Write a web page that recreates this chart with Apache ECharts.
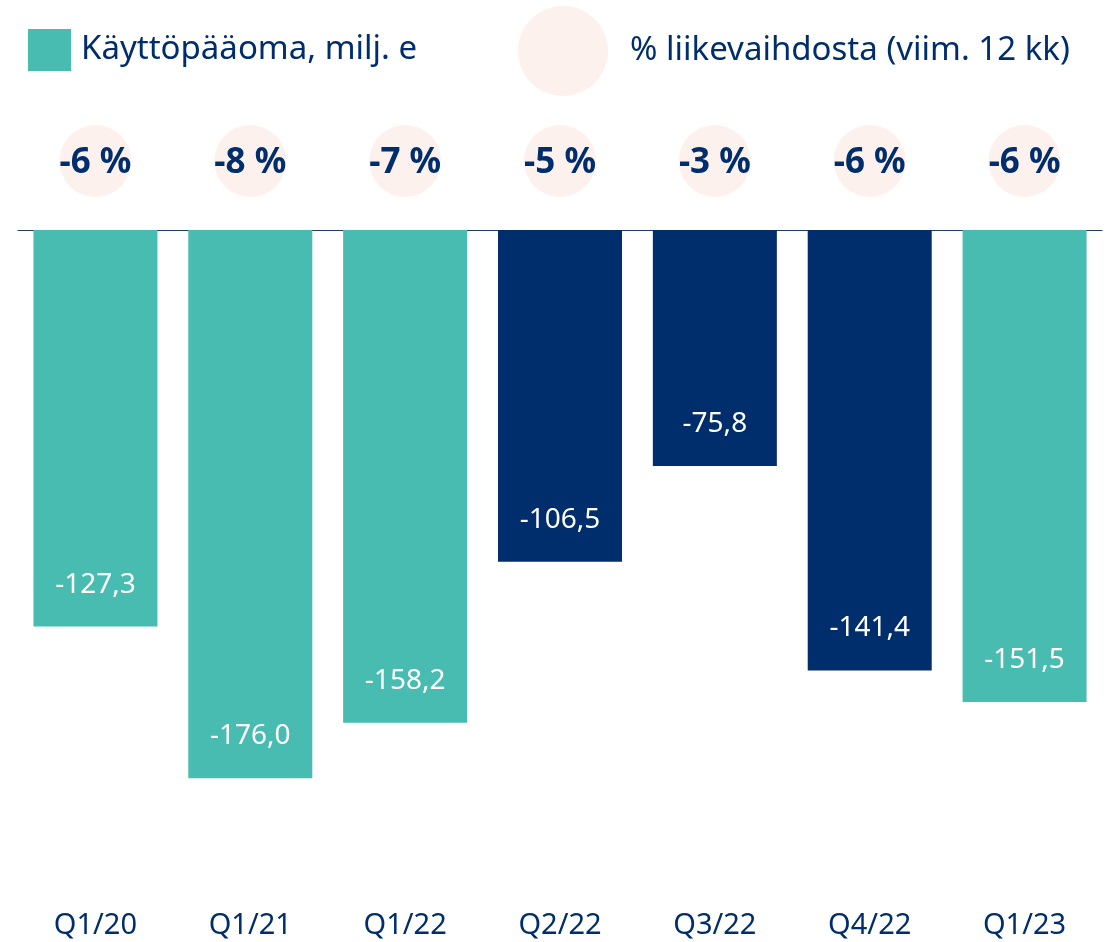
<!DOCTYPE html>
<html>
<head>
<meta charset="utf-8">
<script src="https://cdn.jsdelivr.net/npm/echarts@6/dist/echarts.min.js"></script>
<style>
  html, body { margin: 0; padding: 0; background: #fff; }
  #chart { width: 1110px; height: 942px; }
</style>
</head>
<body>
<div id="chart"></div>
<script>
  // data
  const categories = ['Q1/20', 'Q1/21', 'Q1/22', 'Q2/22', 'Q3/22', 'Q4/22', 'Q1/23'];
  const workingCapital = [-127.3, -176.0, -158.2, -106.5, -75.8, -141.4, -151.5];
  const pctOfSales = [-6, -8, -7, -5, -3, -6, -6];
  const highlighted = ['Q2/22', 'Q3/22', 'Q4/22'];

  const TEAL = '#48BCB0';
  const NAVY = '#002D6C';
  const PINK = '#FDF1EE';
  const FONT = '"Noto Sans", sans-serif';

  const myChart = echarts.init(document.getElementById('chart'));

  // navy bars for the highlighted quarters
  const barData = workingCapital.map((v, i) => {
    if (highlighted.indexOf(categories[i]) >= 0) {
      return { value: v, itemStyle: { color: NAVY } };
    }
    return v;
  });

  const pctData = pctOfSales.map((v, i) => [categories[i], 0, v]);

  myChart.setOption({
    animation: false,
    legend: [
      {
        data: ['Käyttöpääoma, milj. e'],
        left: 28,
        top: 29,
        padding: 0,
        icon: 'rect',
        itemWidth: 43,
        itemHeight: 42,
        textStyle: { color: NAVY, fontSize: 33, fontFamily: FONT, padding: [0, 0, 0, 5] }
      },
      {
        data: ['% liikevaihdosta (viim. 12 kk)'],
        left: 518,
        top: 6,
        padding: 0,
        icon: 'circle',
        itemWidth: 90,
        itemHeight: 90,
        textStyle: { color: NAVY, fontSize: 33, fontFamily: FONT, padding: [0, 0, 0, 17] }
      }
    ],
    grid: [
      { left: 18, right: 8, top: 230, bottom: 89 },
      { left: 18, right: 8, top: 125, height: 72 }
    ],
    xAxis: [
      {
        type: 'category',
        gridIndex: 0,
        data: categories,
        position: 'bottom',
        axisLine: { show: false },
        axisTick: { show: false },
        axisLabel: { color: NAVY, fontSize: 29, fontFamily: FONT, margin: 58 }
      },
      {
        // zero line along the top of the bar grid
        type: 'category',
        gridIndex: 0,
        data: categories,
        position: 'top',
        axisLine: { show: true, onZero: false, lineStyle: { color: '#1F3D6B', width: 1 } },
        axisTick: { show: false },
        axisLabel: { show: false }
      },
      {
        type: 'category',
        gridIndex: 1,
        data: categories,
        show: false
      }
    ],
    yAxis: [
      { type: 'value', gridIndex: 0, min: -200, max: 0, show: false },
      { type: 'value', gridIndex: 1, min: -1, max: 1, show: false }
    ],
    series: [
      {
        name: 'Käyttöpääoma, milj. e',
        type: 'bar',
        xAxisIndex: 0,
        yAxisIndex: 0,
        data: barData,
        barWidth: 124,
        itemStyle: { color: TEAL },
        label: {
          show: true,
          position: 'insideBottom',
          distance: 28,
          color: '#fff',
          fontSize: 28,
          fontFamily: FONT,
          formatter: p => p.value.toFixed(1).replace('.', ',')
        }
      },
      {
        name: '% liikevaihdosta (viim. 12 kk)',
        type: 'scatter',
        xAxisIndex: 2,
        yAxisIndex: 1,
        data: pctData,
        symbolSize: 72,
        itemStyle: { color: PINK, opacity: 1 },
        label: {
          show: true,
          position: 'inside',
          offset: [0, 2],
          color: NAVY,
          fontSize: 35,
          fontWeight: 'bold',
          fontFamily: FONT,
          formatter: p => p.value[2] + ' %'
        }
      }
    ]
  });
</script>
</body>
</html>
